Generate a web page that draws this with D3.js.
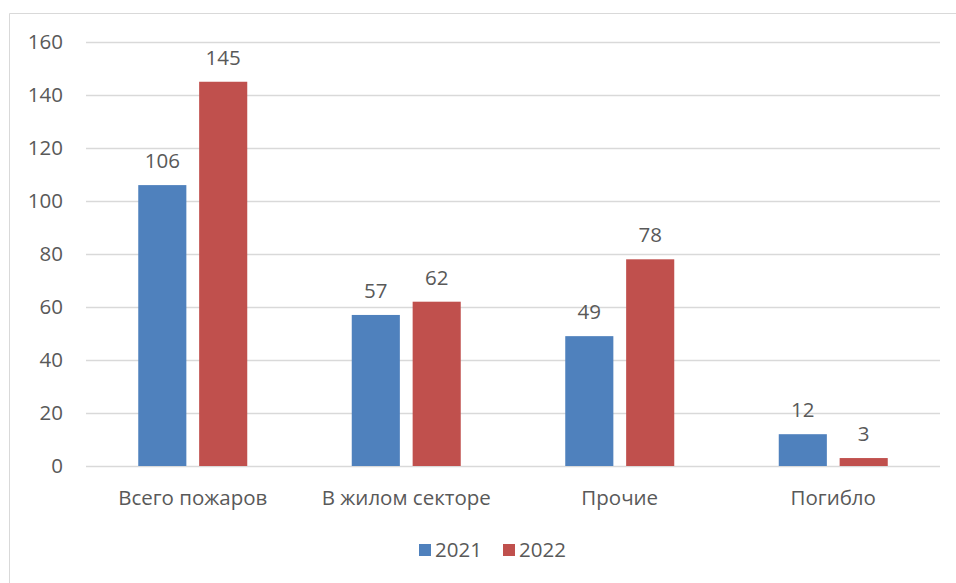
<!DOCTYPE html>
<html lang="ru">
  <head>
    <meta charset="UTF-8" />
    <title>Пожары</title>
    <style>
      body {
        margin: 0;
        background: #fff;
      }
      svg text {
        font-family: "Open Sans", sans-serif;
        fill: #595959;
      }
    </style>
  </head>
  <body>
    <svg width="956" height="583" id="chart"></svg>

    <script src="https://d3js.org/d3.v7.min.js"></script>
    <script>
      var categories = ["Всего пожаров", "В жилом секторе", "Прочие", "Погибло"];
      var years = ["2021", "2022"];
      var values2021 = [106, 57, 49, 12];
      var values2022 = [145, 62, 78, 3];
      var yTicks = [0, 20, 40, 60, 80, 100, 120, 140, 160];
      var colors = ["#4f81bd", "#c0504d"];

      var series = [values2021, values2022];
      var data = categories.map(function (c, i) {
        return {
          cat: c,
          vals: series.map(function (s, j) {
            return { year: years[j], value: s[i] };
          })
        };
      });

      var svg = d3.select("#chart");
      var fontSize = 20.5;

      // outer chart frame (runs off the right and bottom edge)
      svg.append("path")
        .attr("d", "M9.5,600V13.5H970")
        .attr("fill", "none")
        .attr("stroke", "#d9d9d9")
        .attr("stroke-width", 1);

      var plotLeft = 86, plotRight = 940, plotTop = 42, plotBottom = 466;

      var x = d3.scaleBand().domain(categories).range([plotLeft, plotRight]);
      var x1 = d3.scaleBand().domain(years).range([0, 109]).paddingInner(0.21);
      var y = d3.scaleLinear().domain([0, 160]).range([plotBottom, plotTop]);

      // grid
      svg.append("g")
        .selectAll("line")
        .data(yTicks)
        .join("line")
        .attr("x1", plotLeft)
        .attr("x2", plotRight)
        .attr("y1", function (d) { return Math.round(y(d)) + 0.5; })
        .attr("y2", function (d) { return Math.round(y(d)) + 0.5; })
        .attr("stroke", "#d9d9d9")
        .attr("stroke-width", 1.3);

      // y axis labels
      var yAxis = d3.axisLeft(y).tickValues(yTicks).tickSize(0).tickPadding(0);
      var ya = svg.append("g").attr("transform", "translate(63,0)").call(yAxis);
      ya.select(".domain").remove();
      ya.selectAll("text")
        .attr("font-size", fontSize)
        .style("font-family", "'Open Sans', sans-serif")
        .attr("fill", "#595959");

      // bars
      var groups = svg.append("g")
        .selectAll("g")
        .data(data)
        .join("g")
        .attr("transform", function (d) {
          return "translate(" + (x(d.cat) + x.bandwidth() / 2 - 54.5) + ",0)";
        });

      groups.selectAll("rect")
        .data(function (d) { return d.vals; })
        .join("rect")
        .attr("x", function (d) { return x1(d.year); })
        .attr("width", x1.bandwidth())
        .attr("y", function (d) { return y(d.value); })
        .attr("height", function (d) { return plotBottom - y(d.value); })
        .attr("fill", function (d, i) { return colors[i]; });

      groups.selectAll("text")
        .data(function (d) { return d.vals; })
        .join("text")
        .attr("x", function (d) { return x1(d.year) + x1.bandwidth() / 2; })
        .attr("y", function (d) { return y(d.value) - 17; })
        .attr("text-anchor", "middle")
        .attr("font-size", fontSize)
        .text(function (d) { return d.value; });

      // category labels
      svg.append("g")
        .selectAll("text")
        .data(categories)
        .join("text")
        .attr("x", function (d) { return x(d) + x.bandwidth() / 2; })
        .attr("y", 505)
        .attr("text-anchor", "middle")
        .attr("font-size", fontSize)
        .text(function (d) { return d; });

      // legend
      var legend = svg.append("g")
        .selectAll("g")
        .data(years)
        .join("g")
        .attr("transform", function (d, i) { return "translate(" + (419 + i * 84) + ",544)"; });
      legend.append("rect")
        .attr("width", 12)
        .attr("height", 12)
        .attr("fill", function (d, i) { return colors[i]; });
      legend.append("text")
        .attr("x", 16)
        .attr("y", 13)
        .attr("font-size", fontSize)
        .text(function (d) { return d; });
    </script>
  </body>
</html>
